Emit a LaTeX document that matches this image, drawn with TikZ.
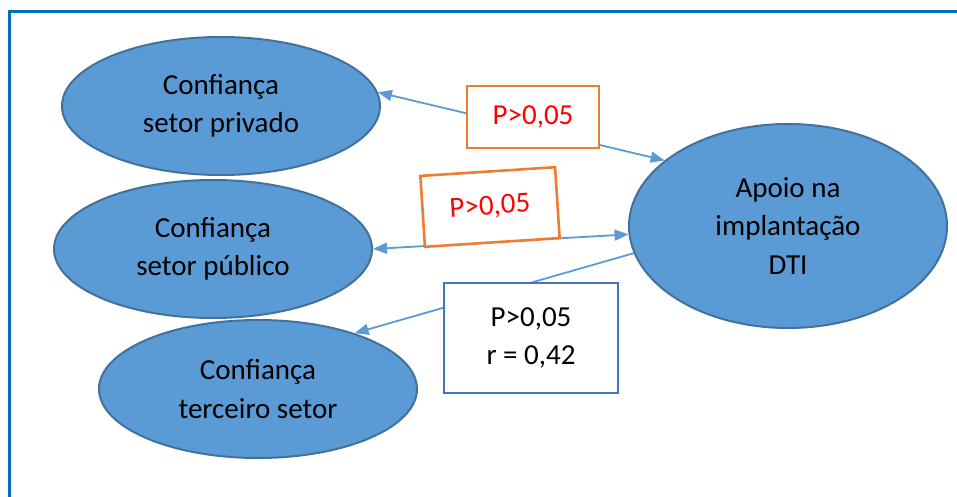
\documentclass[tikz,border=0pt]{standalone}
\usepackage{fontspec}
\setmainfont{Carlito}
\usetikzlibrary{shapes.geometric,arrows.meta}

\definecolor{shapefill}{HTML}{5B9BD5}
\definecolor{shapeline}{HTML}{41719C}
\definecolor{linkcol}{HTML}{5B9BD5}
\definecolor{orangebox}{HTML}{ED7D31}
\definecolor{bluebox}{HTML}{4472C4}
\definecolor{framecol}{HTML}{0070C0}

\tikzset{
  construct/.style = {ellipse, draw = shapeline, line width = 2pt, fill = shapefill,
    minimum width = 318pt, minimum height = 138pt, inner sep = 0pt, align = center,
    font = \fontsize{29}{38.5}\selectfont},
  link/.style = {draw = linkcol, line width = 1.8pt, -{Triangle[length=14pt,width=11pt]}},
  pbox/.style = {draw = orangebox, line width = 2.6pt, fill = white, text = red,
    minimum width = 132pt, minimum height = 62pt, font = \fontsize{29}{38.5}\selectfont},
}

\begin{document}
\begin{tikzpicture}[x = 1pt, y = -1pt]
\useasboundingbox (0, 0) rectangle (957, 497);
% outer frame
\draw[framecol, line width = 3pt] (9, 497) -- (9, 12) -- (957, 12);

\node[construct] (privado) at (221, 106) {Confiança\\setor privado};
\node[construct] (publico) at (213, 249) {Confiança\\setor público};
\node[construct] (terceiro) at (258, 389) {Confiança\\terceiro setor};
\node[construct, minimum height = 204pt] (dti) at (788, 226) {Apoio na\\implantação\\DTI};

\draw[link, {Triangle[length=14pt,width=11pt]}-{Triangle[length=14pt,width=11pt]}] (privado.5) -- (dti.152);
\draw[link, {Triangle[length=14pt,width=11pt]}-{Triangle[length=14pt,width=11pt]}] (publico.0) -- (dti.183);
\draw[link] (dti.190) -- (terceiro.30);

\node[pbox] (pPrivado) at (533, 117) {P>0,05};
\node[pbox, rotate = 3.7, minimum width = 135pt, minimum height = 71pt] (pPublico) at (490, 207) {P>0,05};
\node[pbox, draw = bluebox, text = black, align = center, minimum width = 174pt, minimum height = 110pt]
  (pTerceiro) at (531, 338) {P>0,05\\r = 0,42};
\end{tikzpicture}
\end{document}
